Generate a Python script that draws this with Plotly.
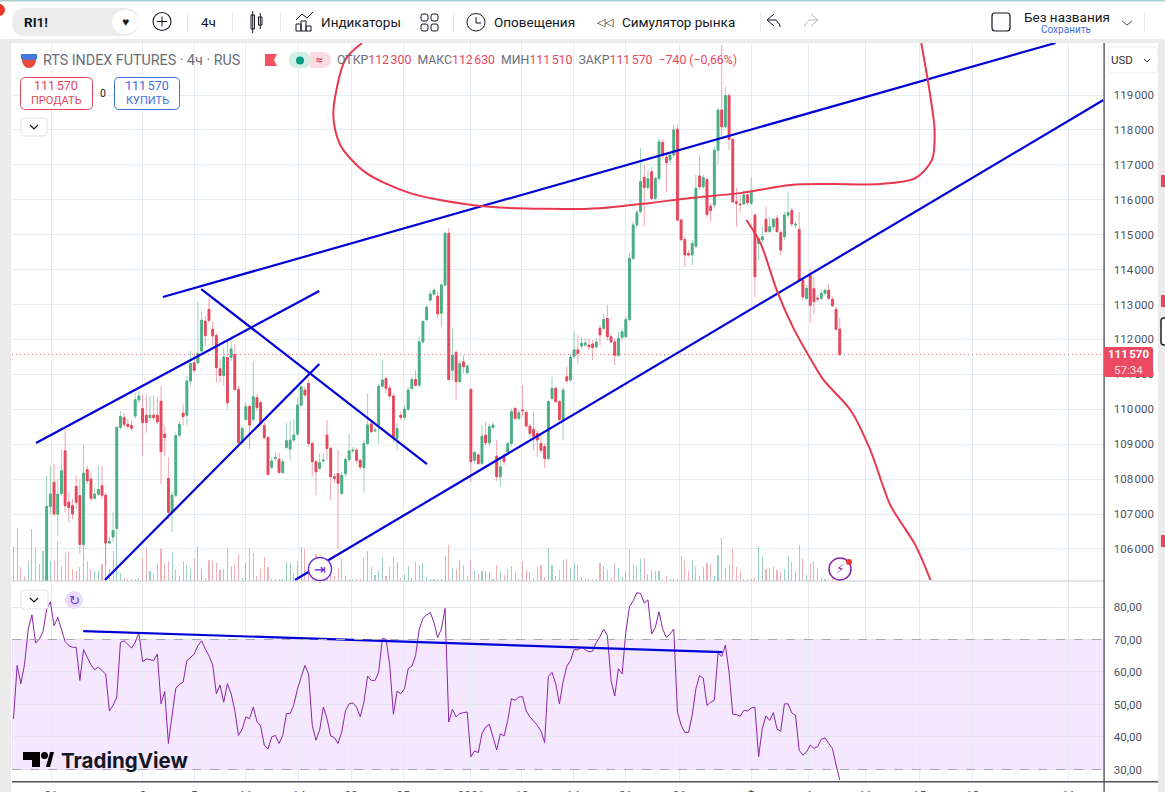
import plotly.graph_objects as go

W, H = 1165, 792

# 4h candles (first nine sit below the visible price range)
bar_open = [
    103900,104100,104300,104200,104000,104300,104600,104400,104500,104700,
    107220,107910,107000,107590,108810,107340,107240,107790,107530,106130,
    108270,108000,107450,107570,107810,107540,106170,106340,106590,109480,
    109760,109570,109530,109810,110270,110020,109830,109760,109830,109830,
    110230,109290,108020,107050,107540,109260,109890,109830,110810,111330,
    111330,111670,112520,112860,112290,112110,111160,110970,111480,111480,
    111570,110570,109050,109710,110080,109710,110330,110190,109530,109190,
    108340,108590,108570,108190,108910,108860,109120,109290,110120,110550,
    110740,109020,108500,108310,108520,109260,108880,108070,108160,107590,
    108160,108560,108810,108830,108540,108330,109020,109580,109380,109550,
    110660,110880,110600,110380,109170,109830,109770,110000,110600,110850,
    110690,111930,112570,113130,113300,113240,112750,113560,115040,111120,
    111630,110790,111360,111050,110570,108540,108690,108450,109260,109040,
    109480,108660,108070,108640,108780,109020,110020,109740,109980,109910,
    109520,109420,109310,109020,108930,108590,110310,110600,110220,109690,
    110930,110840,111520,111700,111810,111840,111840,111870,111790,112320,
    112320,112600,112080,111930,111550,112060,112080,112570,114320,115280,
    115660,116640,116350,116800,116040,116610,117640,117220,117140,117280,
    118020,115420,114860,114460,114420,114670,116680,116370,116580,115820,
    115850,117420,118570,118090,118980,117730,115940,115880,115880,116140,
    115900,115560,114750,114850,115440,115090,115230,115470,115060,114940,
    115560,115690,115280,115150,113700,113170,113840,113460,113180,113180,
    113320,113410,113150,112860,112300,
]
bar_close = [
    104100,104300,104200,104000,104300,104600,104400,104500,104700,107220,
    107570,107000,107570,108240,107240,107190,107000,107340,106130,108170,
    107950,107450,107570,107700,107540,106170,106210,106530,109480,109790,
    109570,109510,109460,110270,110380,109620,109620,109830,109760,109640,
    108790,109190,107050,107540,109240,109570,109790,110810,111310,111120,
    111600,112550,112110,112550,112100,111190,110970,111500,110190,111730,
    110570,109050,109450,110080,109550,110360,110050,109600,109190,108140,
    108520,108620,108190,108500,109100,109120,109260,110120,110640,110410,
    109020,108500,108210,108470,108540,108880,108070,108020,107880,108110,
    108560,108810,108830,108540,108350,109020,109550,109360,109400,110660,
    110840,110600,110380,109210,109450,109770,110000,110550,110850,110690,
    111930,112510,112920,113300,113410,112730,113560,115040,110850,111550,
    110790,111310,111220,111240,108500,108760,108450,109230,109040,109500,
    109550,108070,108350,108500,109020,109930,109740,109900,109960,109520,
    109310,109230,109120,108830,108590,110220,110600,110220,109710,110550,
    110820,111490,111700,111600,111890,111900,111790,111770,111930,112130,
    112570,112080,111930,111550,112030,112220,112570,114320,115280,115630,
    116520,116350,116610,116040,116610,117660,117280,117060,117280,118000,
    115420,114860,114420,114420,114750,116330,116370,116630,115580,115690,
    117420,118570,118090,118980,117730,115940,115900,115860,116140,115920,
    116230,113800,114890,114940,115090,115230,115440,115090,114560,115560,
    115630,115310,115300,113700,113220,113460,112980,113080,113160,113320,
    113410,113180,112960,112290,111570,
]
bar_high = [
    104250,104450,104450,104350,104450,104750,104750,104650,104850,108100,
    108380,108430,108000,108860,109430,107620,107430,108100,108000,108980,
    108380,108190,107760,108380,108380,107620,106340,107050,109530,109950,
    109900,109720,109670,110480,110520,110430,110430,110380,110380,110330,
    110670,109530,108620,107620,109340,109670,110140,110950,111670,111620,
    113090,112810,112670,113190,112520,112190,111430,111760,112000,112100,
    111860,110670,109530,110190,110140,111380,110430,110240,109620,109240,
    108620,108760,108760,108570,109620,109670,109720,110330,110690,110640,
    110840,109070,108540,108740,108740,109690,108930,108160,108830,108210,
    108640,109310,108930,108880,108590,109120,110450,109690,109500,110740,
    111430,110930,110690,110450,109600,109930,110120,110640,110930,111120,
    112080,112560,112980,113370,113460,113370,113610,115090,115180,112320,
    111690,111410,111550,111310,110600,108830,108740,109550,109640,109600,
    109640,109120,108640,108740,109070,110020,110070,109980,110690,109980,
    109600,109930,109400,109310,109020,110260,110930,110640,110260,110640,
    111220,111600,112220,112130,112080,112030,112030,111980,112030,112410,
    112740,112980,112170,112030,112220,112320,112650,114470,115370,115710,
    117470,117000,116850,116950,116660,117760,117730,117380,117380,118140,
    118140,115470,114940,114560,114850,116710,117280,116710,116660,115900,
    117520,118620,120430,119240,119050,117760,116330,116140,116280,116180,
    116660,115610,114940,115230,115800,115510,115470,115560,115130,115660,
    116230,115750,115370,115660,113750,113560,114030,113800,113270,113410,
    113460,113600,113220,112940,112630,
]
bar_low = [
    103750,103950,104050,103850,103850,104150,104250,104250,104350,104500,
    107000,106950,106380,107530,107050,106760,106860,107140,105860,106100,
    107860,107380,107430,107530,107430,105530,106140,106190,106380,109430,
    109480,109430,109380,109720,110190,108670,109330,109670,109670,109570,
    107860,108670,106860,106480,107480,109190,109530,109530,110670,111050,
    111290,111620,111810,112480,111810,110760,110760,110670,110000,111380,
    110520,108950,109000,109670,108860,109620,109950,109530,109140,108100,
    108290,108520,108140,108140,108860,108530,109050,109240,110070,110360,
    108930,108070,107540,108260,108450,108540,107400,107880,106010,107540,
    108070,108500,108740,108450,108260,107590,108970,109310,109360,109020,
    110600,110450,110310,109070,108830,109690,109690,109930,110550,110640,
    110640,111890,112510,113080,113240,112600,112360,113510,110840,110840,
    110260,110740,111030,110980,107920,108450,108400,108400,108970,108930,
    109420,107950,107780,108400,108740,108930,109690,109690,109790,109450,
    109210,108830,108640,108740,108310,108540,110260,110170,109640,109120,
    110740,110790,111460,111310,111740,111790,111700,111410,111740,111840,
    112270,111980,111890,111270,111500,111980,112030,112510,114270,115180,
    115610,115230,116280,116000,116000,116560,117190,116230,117040,117220,
    115370,114800,114080,114370,114130,114610,116280,116330,115510,115370,
    115750,117000,117810,118050,117420,115900,115230,115660,115850,115850,
    115850,113220,114270,114750,115040,115040,115130,115040,114420,114850,
    115470,115230,115180,113650,113130,113130,112460,112740,113080,113130,
    113270,113130,112940,112270,111510,
]
bar_volume = [
    34,53,14,5,20,52,34,17,30,55,
    20,20,39,15,28,30,12,10,14,52,
    20,12,10,11,17,45,12,30,45,8,
    3,2,2,2,3,23,34,10,7,18,
    32,18,20,28,12,5,20,16,12,22,
    35,12,3,21,20,18,11,12,33,15,
    17,27,3,18,33,28,5,12,24,14,
    2,2,2,2,19,19,8,20,34,32,
    8,8,27,18,12,10,8,5,13,23,
    5,2,2,2,2,23,30,14,6,11,
    23,5,14,24,19,3,7,15,3,19,
    16,18,4,2,2,2,2,25,36,13,
    12,21,16,5,21,10,7,10,10,9,
    2,16,10,6,12,15,10,2,20,11,
    9,3,14,16,4,33,16,5,11,21,
    22,13,18,16,4,2,2,2,2,18,
    15,11,3,18,13,4,10,31,17,15,
    22,23,7,11,10,10,2,5,2,2,
    2,25,20,10,21,14,5,14,18,17,
    5,26,43,13,16,32,14,10,2,2,
    2,3,35,24,12,13,14,11,9,12,
    25,19,10,36,22,6,18,20,13,3,
    2,2,2,2,2,
]
rsi_values = [
    45.6,62,56.4,62.3,73.2,77.6,68.9,70.1,72.4,79.3,
    81.6,74.2,76.8,73.2,69.4,68.1,67.6,67.6,57.4,66.9,
    64.5,62.2,60.7,61.5,60.4,59.4,48,49.7,52.3,69.1,
    69.6,68.4,67.4,69.1,72.2,63.2,64,63.8,63.5,65.5,
    50.2,54,38,46.7,55,56.2,56.9,63.5,64.5,65.5,
    68.1,69.6,67.1,65,62.2,53.3,56,50.7,56.4,53.3,
    48.2,40.5,42.4,46.2,45.6,49.2,44.8,43.4,37.5,36.3,
    40,40.5,38,40.5,47.2,47.2,49.9,54.8,58.4,62,
    59.4,43.6,39,42.1,49.2,45.6,40.3,39.8,38,41.6,
    48,50.2,50.5,49.2,46.2,50.7,58.7,57.4,57.4,59.9,
    70.3,70.1,62.2,47,54.1,53.3,54.8,61,61.8,65,
    73.2,76.5,77.6,78.3,75.2,70.6,73.2,79.6,44.6,48.5,
    46.2,47.2,47.5,47.7,33.9,35.7,35.2,41,43.1,43.9,
    40,36,41,40.3,45.1,51.8,51.3,52.3,52.4,48,
    46.2,44.8,43.6,41.8,38.3,58.6,59.9,56.4,50.2,56.9,
    61.8,63.5,66.9,66.8,67.6,66.9,66.2,66.4,69.1,70.9,
    73.2,71.2,57.4,52.6,61,59.4,72.2,80.1,81.9,84.4,
    84.2,81.2,82.2,71.7,73.7,78.5,73.2,70.6,71.7,73.2,
    47.7,43.6,41.4,41.4,46.7,54.8,58.9,58.1,49.7,50.7,
    51.3,65.8,64.8,68.3,59.9,47,46.9,46.4,48.2,48,
    48.9,49.2,33.9,42.6,46.5,45.1,47.5,42.4,41.8,50.2,
    50.2,47.4,46.7,35.9,34.4,35.4,37.5,36.5,37,39.3,
    39.7,38,36.5,31.4,26.8,
]
bar_no = list(range(len(bar_close)))

# axis ticks
price_ticks = [119000,118000,117000,116000,115000,114000,113000,112000,111000,110000,109000,108000,107000,106000]
price_labels = ["119\u202f000","118\u202f000","117\u202f000","116\u202f000","115\u202f000","114\u202f000","113\u202f000",
                "112\u202f000","111\u202f000","110\u202f000","109\u202f000","108\u202f000","107\u202f000","106\u202f000"]
rsi_ticks = [80,70,60,50,40,30]
rsi_labels = ["80,00","70,00","60,00","50,00","40,00","30,00"]
time_ticks = [10.2,35.1,49,63,77.4,91.5,105.6,124,137.8,151.7,165.9,180.5,200,215.5,231,245.6,260,286]
time_labels = ["21","2","5","11","14","20","25","2021","12","14","21","26","Ф","4","11","15","18","11"]

# hand drawn lines on the chart, in bars and price
blue_lines = [
    ([40.5,282.5],[113215,120490]),
    ([6.1,82.9],[109033,113387]),
    ([24.8,82.9],[105110,111296]),
    ([50.9,112.1],[113444,108432]),
    ([76.3,295.5],[105110,118857]),
]
rsi_line_bars = [18.9,192.2]
rsi_line_vals = [72.6,66.1]
red_curve_bars = [94.5,89.9,86.7,88.6,95.3,107.5,126.5,144.2,159.1,172.6,183.5,197,210.6,221.5,235,244.5,249,249.7,248.3,246.1]
red_curve_vals = [120490,120000,118430,117570,116790,116190,115820,115740,115760,115910,116050,116190,116420,116450,116450,116620,117140,118000,119140,120490]
red_fall_bars = [198.7,202.5,207.1,211.4,215.5,219.6,226.9,232.3,237.7,244.5,248.6]
red_fall_vals = [115420,114760,113360,112330,111550,110840,109980,108830,107260,106110,105110]

GREEN = "#4caf86"
RED = "#e6495e"
BLUE = "#0000d8"
DRAW_RED = "#e8384f"
GRID = "#e6edf2"
TEXT = "#131722"
GREY = "#6a6d78"
FONT = "Roboto"


def X(px):
    return px / W


def Y(py):
    return 1 - py / H


shapes = []
annotations = []


def box(x0, y0, x1, y1, fill=None, line=None, lw=1, kind="rect", dash=None):
    shapes.append(dict(type=kind, xref="paper", yref="paper", x0=X(x0), x1=X(x1), y0=Y(y0), y1=Y(y1),
                       fillcolor=fill or "rgba(0,0,0,0)", layer="above",
                       line=dict(color=line or "rgba(0,0,0,0)", width=lw if line else 0, dash=dash)))


def rbox(x0, y0, x1, y1, r, fill=None, line=None, lw=1):
    pts = [("M", x0 + r, y0), ("L", x1 - r, y0), ("Q", x1, y0, x1, y0 + r), ("L", x1, y1 - r), ("Q", x1, y1, x1 - r, y1),
           ("L", x0 + r, y1), ("Q", x0, y1, x0, y1 - r), ("L", x0, y0 + r), ("Q", x0, y0, x0 + r, y0)]
    d = ""
    for p in pts:
        if p[0] == "Q":
            d += f"Q{X(p[1])},{Y(p[2])} {X(p[3])},{Y(p[4])} "
        else:
            d += f"{p[0]}{X(p[1])},{Y(p[2])} "
    shapes.append(dict(type="path", xref="paper", yref="paper", path=d + "Z", layer="above",
                       fillcolor=fill or "rgba(0,0,0,0)",
                       line=dict(color=line or "rgba(0,0,0,0)", width=lw if line else 0)))


def poly(points, fill=None, line=None, lw=1, close=True):
    d = "M" + " L".join(f"{X(a)},{Y(b)}" for a, b in points) + (" Z" if close else "")
    shapes.append(dict(type="path", xref="paper", yref="paper", path=d, layer="above",
                       fillcolor=fill or "rgba(0,0,0,0)",
                       line=dict(color=line or "rgba(0,0,0,0)", width=lw if line else 0)))


def label(px, py, text, size=13, color=TEXT, anchor="left", font=FONT, valign="middle"):
    annotations.append(dict(xref="paper", yref="paper", x=X(px), y=Y(py), text=text, showarrow=False,
                            xanchor=anchor, yanchor=valign, font=dict(family=font, size=size, color=color),
                            borderpad=0, borderwidth=0))


fig = go.Figure()

# volume goes on the lower base axis so candles stay on top
vol_colors = ["rgba(76,170,150,0.55)" if c >= o else "rgba(226,100,110,0.5)" for o, c in zip(bar_open, bar_close)]
fig.add_trace(go.Bar(x=bar_no, y=bar_volume, marker=dict(color=vol_colors, line=dict(width=0)), width=0.3,
                     xaxis="x", yaxis="y3", showlegend=False))

# pale wicks first, then a second pass for the solid bodies
fig.add_trace(go.Candlestick(
    x=bar_no, open=bar_open, high=bar_high, low=bar_low, close=bar_close, xaxis="x", yaxis="y", showlegend=False,
    whiskerwidth=0,
    increasing=dict(fillcolor=GREEN, line=dict(color="rgba(76,175,134,0.55)", width=1)),
    decreasing=dict(fillcolor=RED, line=dict(color="rgba(230,73,94,0.5)", width=1)),
))
body_top = [max(o, c) for o, c in zip(bar_open, bar_close)]
body_bot = [min(o, c) for o, c in zip(bar_open, bar_close)]
fig.add_trace(go.Candlestick(
    x=bar_no, open=bar_open, high=body_top, low=body_bot, close=bar_close, xaxis="x", yaxis="y", showlegend=False,
    whiskerwidth=0,
    increasing=dict(fillcolor=GREEN, line=dict(color=GREEN, width=0.8)),
    decreasing=dict(fillcolor=RED, line=dict(color=RED, width=0.8)),
))

# last price line
fig.add_trace(go.Scatter(x=[-0.4, 295.5], y=[bar_close[-1]] * 2, mode="lines", xaxis="x", yaxis="y", showlegend=False,
                         line=dict(color="#e6495e", width=0.8, dash="1px,3px")))

for xs, ys in blue_lines:
    fig.add_trace(go.Scatter(x=xs, y=ys, mode="lines", xaxis="x", yaxis="y", showlegend=False,
                             line=dict(color=BLUE, width=2.2)))
for xs, ys in [(red_curve_bars, red_curve_vals), (red_fall_bars, red_fall_vals)]:
    fig.add_trace(go.Scatter(x=xs, y=ys, mode="lines", xaxis="x", yaxis="y", showlegend=False,
                             line=dict(color=DRAW_RED, width=2, shape="spline", smoothing=0.8)))

fig.add_trace(go.Scatter(x=bar_no, y=rsi_values, mode="lines", xaxis="x2", yaxis="y2", showlegend=False,
                         line=dict(color="#8a24a8", width=1)))
fig.add_trace(go.Scatter(x=rsi_line_bars, y=rsi_line_vals, mode="lines", xaxis="x2", yaxis="y2", showlegend=False,
                         line=dict(color=BLUE, width=2.2)))

# RSI band and its dashed limits
shapes.append(dict(type="rect", xref="x2", yref="y2", x0=-0.4, x1=295.5, y0=30, y1=70, layer="below",
                   fillcolor="#f5e7fd", line=dict(width=0)))
for lvl in [70, 30]:
    shapes.append(dict(type="line", xref="x2", yref="y2", x0=-0.4, x1=295.5, y0=lvl, y1=lvl, layer="above",
                       line=dict(color="#a9a6ad", width=1, dash="dash")))

# frame of the terminal
box(0, 0, W, 41, fill="white")
box(0, 0, W, 1.5, fill="#a9cfd0")
box(0, 39, W, 43, fill="#ebebeb")
box(0, 39, 11, H, fill="#ebebeb")
box(1158, 39, W, H, fill="#ebebeb")
box(11, 580.5, 1104, 581.5, fill="#c9ced3")
box(12, 781, 1158, 782.5, fill="#50535e")
box(1103.4, 43, 1104.8, H, fill="#50535e")
for ny, nc in [(181, RED), (301, RED), (541, RED)]:
    box(1161, ny - 6, W, ny + 6, fill=nc)
rbox(1161, 318, 1170, 345, 3, fill="white", line="#222", lw=1.5)
shapes.append(dict(type="circle", xref="paper", yref="paper", x0=X(-7), x1=X(5), y0=Y(16), y1=Y(4), fillcolor="#e8392f",
                   line=dict(width=0), layer="above"))

# toolbar
rbox(12, 8, 138, 36, 14, fill="#ececec")
box(112, 10, 138, 34, fill="white", kind="circle")
label(24, 22, "<b>RI1!</b>", 13.5)
label(125, 22, "♥", 12, anchor="center")
box(153, 12.5, 171, 30.5, line=TEXT, lw=1.1, kind="circle")
poly([(162, 16.5), (162, 26.5)], line=TEXT, close=False)
poly([(157, 21.5), (167, 21.5)], line=TEXT, close=False)
for sx in [187, 232, 280, 453, 760, 1144]:
    box(sx, 12, sx + 1, 32, fill="#e8e8e8")
label(201, 22, "4ч", 13.5)
box(251, 15, 254.5, 29, line=TEXT, lw=1)
poly([(252.7, 11), (252.7, 33)], line=TEXT, close=False)
box(258.5, 17, 262, 25, line=TEXT, lw=1)
poly([(260.3, 13), (260.3, 29)], line=TEXT, close=False)
poly([(296, 20), (302, 14), (307, 18), (313, 12)], line=TEXT, close=False)
box(296, 24, 301, 31, line=TEXT)
box(301, 21, 306, 31, line=TEXT)
box(306, 26, 311, 31, line=TEXT)
label(321, 22, "Индикаторы", 13.5)
for qx, qy in [(421, 14), (431, 14), (421, 24), (431, 24)]:
    rbox(qx, qy, qx + 7, qy + 7, 2, line=TEXT)
box(467, 13.5, 485, 31, line=TEXT, kind="circle")
poly([(476, 17), (476, 23), (481, 23)], line=TEXT, close=False)
label(494, 22, "Оповещения", 13.5)
label(597, 22, "◁◁", 11, anchor="left")
label(622, 22, "Симулятор рынка", 13.5)
poly([(774, 14), (767, 20), (774, 26)], line=TEXT, close=False)
poly([(768, 20), (776, 20), (780, 25), (780, 27)], line=TEXT, close=False)
poly([(811, 14), (818, 20), (811, 26)], line="#b5b8be", close=False)
poly([(817, 20), (809, 20), (805, 25), (805, 27)], line="#b5b8be", close=False)
rbox(992, 13, 1010, 31, 3, line=TEXT, lw=1.2)
label(1024, 17, "Без названия", 13.5)
label(1066, 29, "Сохранить", 10, color="#3f6fe0", anchor="center")
poly([(1122, 21), (1127, 25), (1132, 21)], line="#555", close=False)

# chart legend row
box(22, 52, 36, 68, fill="#e9483f", kind="circle")
box(22, 52, 36, 60, fill="#3f78e0", kind="circle")
box(21, 53, 37, 59.5, fill="#3f78e0")
box(21, 50, 37, 54, fill="white")
label(43, 60, "RTS INDEX FUTURES · 4ч · RUS", 14.3, color=GREY)
poly([(265, 54), (277, 54), (274, 60), (277, 66), (265, 66)], fill="#f7525f")
rbox(289, 52, 311, 68, 8, fill="#cfeee6")
rbox(311, 52, 331, 68, 8, fill="#fbdbe2")
box(310, 52, 316, 68, fill="#fbdbe2")
box(296, 56.5, 304, 64.5, fill="#089981", kind="circle")
label(319, 60, "<b>≈</b>", 12, color="#d9344f", anchor="center")
vals = ("ОТКР<span style='color:{r}'>112\u202f300</span>  МАКС<span style='color:{r}'>112\u202f630</span>  "
        "МИН<span style='color:{r}'>111\u202f510</span>  ЗАКР<span style='color:{r}'>111\u202f570  −740 (−0,66%)</span>").format(r="#e8475c")
label(337, 60, vals, 12.3, color=GREY)

rbox(20.5, 77.5, 92.5, 109.5, 5, fill="white", line="#e0485c", lw=1)
label(56, 86, "111\u202f570", 12.5, color="#e0485c", anchor="center")
label(56, 100, "ПРОДАТЬ", 11, color="#e0485c", anchor="center")
label(103, 93, "0", 10.5, anchor="center")
rbox(114.5, 77.5, 179.5, 109.5, 5, fill="white", line="#3f6fe0", lw=1)
label(147, 86, "111\u202f570", 12.5, color="#3f6fe0", anchor="center")
label(147, 100, "КУПИТЬ", 11, color="#3f6fe0", anchor="center")
rbox(21, 118, 47, 136, 3, fill="white", line="#e0e3eb")
poly([(30, 125), (34, 129), (38, 125)], line=TEXT, lw=1.2, close=False)

rbox(1108, 47, 1158, 73, 4, fill="white", line="#eceef2")
label(1111, 60, "USD", 11.5, color="#333")
poly([(1144, 59), (1147, 62), (1150, 59)], line="#333", close=False)

# price tag
rbox(1104, 347, 1153, 377, 2, fill="#ec4a63")
label(1128, 354, "<b>111\u202f570</b>", 11.5, color="white", anchor="center")
label(1128, 370, "57:34", 11.5, color="#ffdfe4", anchor="center")

# purple markers
box(308.5, 557.5, 331.5, 580.5, fill="white", line="#6d28d9", lw=1.4, kind="circle")
label(320, 569, "⇥", 14, color="#6d28d9", anchor="center", font="DejaVu Sans")
box(829, 558, 851, 580, fill="white", line="#8e24aa", lw=1.5, kind="circle")
label(840, 569, "⚡", 12, color="#8e24aa", anchor="center", font="DejaVu Sans")
box(846, 559, 852, 565, fill="#e8392f", kind="circle")

# RSI pane widgets
rbox(21, 590, 48, 609, 3, fill="white", line="#e0e3eb")
poly([(30, 598), (34, 602), (38, 598)], line=TEXT, lw=1.2, close=False)
box(65, 591, 83, 609, fill="#ecdcfb", kind="circle")
label(74, 600, "↻", 13, color="#6d3fe0", anchor="center", font="DejaVu Sans")

# TradingView mark
poly([(23, 752), (40, 752), (40, 767), (32, 767), (32, 760), (23, 760)], fill="black")
box(41, 752, 48, 759, fill="black", kind="circle")
poly([(46, 767), (50, 752), (54, 752), (50, 767)], fill="black")
label(61, 760, "<b>TradingView</b>", 20.5, color="#131722", font="Inter")

fig.update_layout(
    width=W, height=H, margin=dict(l=0, r=0, t=0, b=0, autoexpand=False), paper_bgcolor="white", plot_bgcolor="white",
    font=dict(family=FONT, size=12, color="#4c525e"), showlegend=False, bargap=0,
    shapes=shapes, annotations=annotations, hovermode=False,
    xaxis=dict(domain=[X(12), X(1103.5)], range=[-0.4, 295.5], anchor="y", tickmode="array", tickvals=time_ticks,
               ticktext=time_labels, showticklabels=False, showgrid=True, gridcolor=GRID, gridwidth=1, zeroline=False,
               ticks="", rangeslider=dict(visible=False), showline=False),
    xaxis2=dict(domain=[X(12), X(1103.5)], range=[-0.4, 295.5], anchor="y2", tickmode="array", tickvals=time_ticks,
                ticktext=time_labels, showgrid=True, gridcolor=GRID, gridwidth=1, zeroline=False,
                ticks="outside", ticklen=3, tickcolor="rgba(0,0,0,0)", tickangle=0, tickfont=dict(size=12, color="#4c525e")),
    yaxis3=dict(domain=[Y(581), Y(43)], range=[0, 538], anchor="x", visible=False),
    yaxis=dict(domain=[Y(581), Y(43)], range=[105083, 120489], anchor="x", side="right", overlaying="y3",
               tickmode="array", tickvals=price_ticks, ticktext=price_labels, showgrid=True, gridcolor=GRID, zeroline=False,
               ticks="outside", ticklen=7, tickcolor="rgba(0,0,0,0)", tickfont=dict(size=11.5, color="#4c525e")),
    yaxis2=dict(domain=[Y(781.5), Y(581)], range=[26.3, 88], anchor="x2", side="right", tickmode="array", tickvals=rsi_ticks,
                ticktext=rsi_labels, showgrid=True, gridcolor="#e6e4ee", zeroline=False,
                ticks="outside", ticklen=7, tickcolor="rgba(0,0,0,0)", tickfont=dict(size=11.5, color="#4c525e")),
)

fig.write_html("out.html", config=dict(displayModeBar=False), post_script="document.body.style.margin='0';")
